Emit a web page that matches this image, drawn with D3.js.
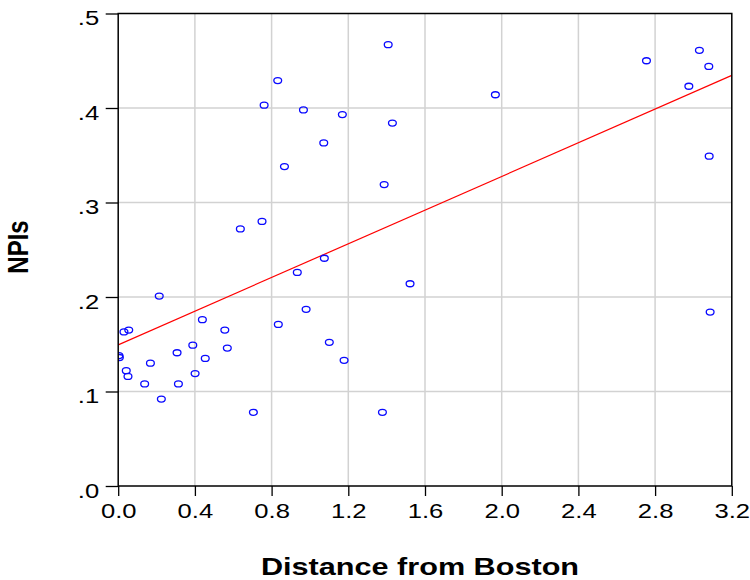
<!DOCTYPE html>
<html lang="en">
<head>
    <meta charset="UTF-8">
    <title>NPIs vs Distance from Boston</title>
    <style>
        body { margin: 0; background: #fff; }
        svg { display: block; font-family: "Liberation Sans", Arial, sans-serif; }
    </style>
    <script src="https://d3js.org/d3.v7.min.js"></script>
</head>
<body>
<div id="chart"></div>
<script>
    // values
    var distance = [0.214, 0.030, 0.055, 0.004, 0.006, 0.042, 0.051, 0.138, 0.168, 0.225,
                    0.307, 0.314, 0.389, 0.401, 0.439, 0.454, 0.556, 0.569, 0.705, 1.408,
                    0.832, 1.967, 0.761, 0.966, 1.169, 1.430, 1.072, 0.867, 1.387, 0.750,
                    0.637, 1.075, 0.934, 1.522, 0.980, 0.835, 1.101, 1.178, 1.378, 2.755,
                    3.031, 3.080, 2.976, 3.082, 3.087];
    var npis = [0.201, 0.163, 0.165, 0.138, 0.136, 0.122, 0.116, 0.108, 0.130, 0.092,
                0.141, 0.108, 0.149, 0.119, 0.176, 0.135, 0.165, 0.146, 0.078, 0.467,
                0.429, 0.414, 0.403, 0.398, 0.393, 0.384, 0.363, 0.338, 0.319, 0.280,
                0.272, 0.241, 0.226, 0.214, 0.187, 0.171, 0.152, 0.133, 0.078, 0.450,
                0.461, 0.444, 0.423, 0.349, 0.184];
    var xTicks = [0, 0.4, 0.8, 1.2, 1.6, 2.0, 2.4, 2.8, 3.2];
    var yTicks = [0, 0.1, 0.2, 0.3, 0.4, 0.5];

    function drawChart() {
        var width = 750, height = 580;
        var plotLeft = 118.2, plotRight = 731.8, plotTop = 13.5, plotBottom = 486;
        var stretch = 1.25; // the original text is drawn a bit wide

        var svg = d3.select("#chart").append("svg")
            .attr("width", width)
            .attr("height", height);

        var x = d3.scaleLinear().domain([0, 3.2]).range([plotLeft, plotRight]);
        var y = d3.scaleLinear().domain([0, 0.5]).range([plotBottom, plotTop]);

        svg.append("clipPath").attr("id", "plotClip")
            .append("rect")
            .attr("x", plotLeft).attr("y", plotTop)
            .attr("width", plotRight - plotLeft).attr("height", plotBottom - plotTop);

        // grid lines
        svg.append("g").selectAll("line")
            .data(xTicks.slice(1, -1))
            .enter().append("line")
            .attr("x1", d => x(d)).attr("x2", d => x(d))
            .attr("y1", plotTop).attr("y2", plotBottom)
            .attr("stroke", "#d2d2d2").attr("stroke-width", 1.5);
        svg.append("g").selectAll("line")
            .data(yTicks.slice(1, -1))
            .enter().append("line")
            .attr("y1", d => y(d)).attr("y2", d => y(d))
            .attr("x1", plotLeft).attr("x2", plotRight)
            .attr("stroke", "#d2d2d2").attr("stroke-width", 1.5);

        // least squares fit line
        var mx = d3.mean(distance), my = d3.mean(npis);
        var sxy = d3.sum(distance, (d, i) => (d - mx) * (npis[i] - my));
        var sxx = d3.sum(distance, d => (d - mx) * (d - mx));
        var slope = sxy / sxx, intercept = my - slope * mx;

        svg.append("line")
            .attr("clip-path", "url(#plotClip)")
            .attr("x1", x(0)).attr("y1", y(intercept))
            .attr("x2", x(3.2)).attr("y2", y(intercept + slope * 3.2))
            .attr("stroke", "#ff0000").attr("stroke-width", 1.2);

        // points
        svg.append("g")
            .attr("clip-path", "url(#plotClip)")
            .selectAll("ellipse")
            .data(distance)
            .enter().append("ellipse")
            .attr("cx", d => x(d))
            .attr("cy", (d, i) => y(npis[i]))
            .attr("rx", 3.9).attr("ry", 3.0)
            .attr("fill", "none")
            .attr("stroke", "#0a0aff").attr("stroke-width", 1.3);

        // frame
        svg.append("rect")
            .attr("x", plotLeft).attr("y", plotTop)
            .attr("width", plotRight - plotLeft).attr("height", plotBottom - plotTop)
            .attr("fill", "none").attr("stroke", "#000").attr("stroke-width", 1.5);

        // axes
        var xAxis = svg.append("g")
            .attr("transform", "translate(0," + plotBottom + ")")
            .call(d3.axisBottom(x).tickValues(xTicks).tickSize(10).tickSizeOuter(0).tickFormat(d3.format(".1f")));
        xAxis.select(".domain").remove();
        xAxis.selectAll("line").attr("stroke", "#000").attr("stroke-width", 1.3);
        xAxis.selectAll("text")
            .attr("y", 32).attr("dy", null)
            .attr("transform", "scale(" + stretch + ",1)")
            .style("font-size", "20.5px").attr("fill", "#000");

        var yAxis = svg.append("g")
            .attr("transform", "translate(" + plotLeft + ",0)")
            .call(d3.axisLeft(y).tickValues(yTicks).tickSize(12.5).tickSizeOuter(0)
                .tickFormat(d => "." + Math.round(d * 10)));
        yAxis.select(".domain").remove();
        yAxis.selectAll("line").attr("stroke", "#000").attr("stroke-width", 1.3);
        yAxis.selectAll("text")
            .attr("x", -19 / stretch).attr("y", 11).attr("dy", null)
            .attr("transform", "scale(" + stretch + ",1)")
            .style("font-size", "20.5px").attr("fill", "#000");

        // axis titles
        svg.append("text")
            .attr("transform", "translate(420,575) scale(" + stretch + ",1)")
            .attr("text-anchor", "middle")
            .style("font-size", "24.5px").style("font-weight", "bold")
            .text("Distance from Boston");

        svg.append("text")
            .attr("transform", "translate(28,247) scale(" + stretch + ",1) rotate(-90)")
            .attr("text-anchor", "middle")
            .style("font-size", "24px").style("font-weight", "bold")
            .text("NPIs");
    }

    drawChart();
</script>
</body>
</html>
